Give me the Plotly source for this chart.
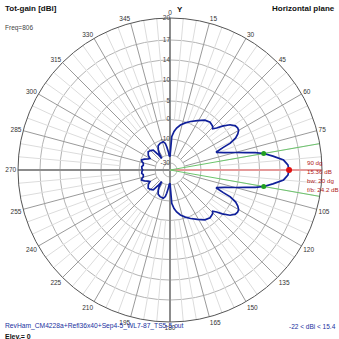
import numpy as np
import plotly.graph_objects as go

# ---- data (dBi) ----
az_deg = [0, 3, 6, 9, 13, 18, 23, 29, 35, 40, 44, 46, 48, 50, 53, 56, 58, 60, 62, 64, 66, 67, 69,
          72.5, 75, 77, 78.5, 80, 82.3, 85, 87.5, 90,
          92.5, 95, 97.7, 100, 101.5, 103, 105, 107.5, 111, 113, 114, 116, 118, 120, 122, 124, 127,
          130, 132, 134, 136, 140, 145, 151, 157, 162, 167, 171, 174, 177, 180,
          183, 185, 188, 190, 193.3, 200.5, 206, 210.3, 213, 215.5, 217.5, 220, 225, 230, 236, 240,
          243, 247, 250.5, 253, 256, 260, 263.3, 267, 270,
          273, 276.7, 280, 284, 287, 289.5, 293, 297, 300, 304, 310, 315, 320, 322.5, 324.5, 327,
          329.7, 334, 339.5, 346.7, 350, 352, 355, 357, 360]
gain_dbi = [-22, -8.8, -6, -4.1, -2.2, -0.5, 0.6, 1.6, 2.8, 3.2, 2.9, 2.4, 3.3, 4.8, 6.5, 7.4, 7.6,
            7.5, 6.9, 6.0, 4.2, 2.0, -0.6,
            1.9, 4.6, 7.1, 9.4, 11.1, 12.8, 14.6, 15.2, 15.36,
            15.2, 14.6, 12.8, 11.1, 9.4, 7.1, 4.6, 1.9, -0.6, 2.0, 4.2, 6.0, 6.9, 7.5, 7.6, 7.4, 6.5,
            4.8, 3.3, 2.4, 2.9, 3.2, 2.8, 1.6, 0.6, -0.5, -2.2, -4.1, -6, -8.8, -22,
            -21, -18, -14.7, -12.5, -11.2, -11.6, -12.5, -14.9, -17, -20.9, -17, -13.1, -12.2, -11.6,
            -13, -14.9, -14, -12, -10.6, -11.0, -12.2, -12.4, -11.6, -11.8, -12.3,
            -11.8, -11.6, -12.4, -12.2, -11.0, -10.6, -12, -14, -14.9, -13, -11.6, -12.2, -13.1,
            -17, -20.9, -17, -14.9, -12.5, -11.6, -11.2, -12.5, -14.7, -18, -21, -22]

max_az = 90
max_gain = 15.36
bw_az = [80, 100]
bw_gain = [11.1, 11.1]

ring_db = [-30, -20, -10, 0, 5, 10, 14, 17, 20]
ring_lbl = ["-30", "", "-10", "0", "5", "10", "14", "17", "20"]
ring_px = [7, 15, 31, 50.5, 69, 89.5, 110, 130, 152]  # scale shape of the log plot

angle_ticks = list(range(0, 360, 15))
angle_lbl = ["" if a == 90 else str(a) for a in angle_ticks]

info_lines = ["90 dg", "15.36 dB", "bw: 20 dg", "f/b: 24.2 dB"]
file_name = "RevHam_CM4228a+Refl36x40+Sep4-5_WL7-87_TS5-5.out"
range_text = "-22 < dBi < 15.4"

# ---- scale ----
ring_r = [p / 152.0 for p in ring_px]


def rmap(db):
    return np.interp(np.asarray(db, dtype=float), ring_db, ring_r)


W = H = 339
cx, cy, R = 170, 170, 152
FONT = "Liberation Sans, Arial, sans-serif"

fig = go.Figure()

# light spokes every 5 deg
th, rr = [], []
for a in range(0, 360, 5):
    if a % 15:
        th += [a, a, None]
        rr += [float(rmap(0)), 1, None]
fig.add_trace(go.Scatterpolar(theta=th, r=rr, mode="lines",
                              line=dict(color="#dcdcdc", width=1), hoverinfo="skip", showlegend=False))
# darker spokes every 15 deg
th, rr = [], []
for a in range(0, 360, 15):
    if a % 90:
        th += [a, a, None]
        rr += [float(rmap(-20)), 1, None]
fig.add_trace(go.Scatterpolar(theta=th, r=rr, mode="lines",
                              line=dict(color="#9a9a9a", width=1), hoverinfo="skip", showlegend=False))
# main axes
th, rr = [], []
for a in (0, 180, 270):
    th += [a, a, None]
    rr += [0, 1, None]
fig.add_trace(go.Scatterpolar(theta=th, r=rr, mode="lines",
                              line=dict(color="#8c8c8c", width=2), hoverinfo="skip", showlegend=False))
# red max line
fig.add_trace(go.Scatterpolar(theta=[max_az, max_az], r=[0, 1], mode="lines",
                              line=dict(color="#e59a9a", width=2), hoverinfo="skip", showlegend=False))
# green bw lines
fig.add_trace(go.Scatterpolar(theta=[bw_az[0], bw_az[0], None, bw_az[1], bw_az[1]],
                              r=[0, 1, None, 0, 1], mode="lines",
                              line=dict(color="#6cc46c", width=1), hoverinfo="skip", showlegend=False))
# radial scale labels along the 0 deg spoke
fig.add_trace(go.Scatterpolar(theta=[0] * len(ring_db), r=rmap(ring_db), mode="text",
                              text=ring_lbl, textposition="middle left",
                              textfont=dict(size=6.5, color="#444444", family=FONT),
                              hoverinfo="skip", showlegend=False))
# pattern
fig.add_trace(go.Scatterpolar(theta=az_deg, r=rmap(gain_dbi), mode="lines",
                              line=dict(color="#10209a", width=1.7), showlegend=False))
# markers
fig.add_trace(go.Scatterpolar(theta=bw_az, r=rmap(bw_gain), mode="markers",
                              marker=dict(color="#22a022", size=5), showlegend=False))
fig.add_trace(go.Scatterpolar(theta=[max_az], r=rmap([max_gain]), mode="markers",
                              marker=dict(color="#e01010", size=6), showlegend=False))

fig.update_layout(
    width=W, height=H,
    margin=dict(l=0, r=0, t=0, b=0),
    paper_bgcolor="white", plot_bgcolor="white",
    font=dict(family=FONT, size=7, color="#333333"),
    polar=dict(
        domain=dict(x=[(cx - R) / W, (cx + R) / W], y=[1 - (cy + R) / H, 1 - (cy - R) / H]),
        bgcolor="white",
        angularaxis=dict(rotation=90, direction="clockwise", tickmode="array",
                         tickvals=angle_ticks, ticktext=angle_lbl,
                         showgrid=False, showline=True, linecolor="#555555", linewidth=1,
                         ticks="", tickfont=dict(size=6.5, color="#333333")),
        radialaxis=dict(range=[0, 1], tickmode="array", tickvals=list(rmap(ring_db)),
                        showticklabels=False, showline=False, ticks="",
                        gridcolor="#b4b4b4", gridwidth=1),
    ),
)


def ann(x, y, text, size=7, color="#333333", bold=False, xanchor="left"):
    if bold:
        text = "<b>" + text + "</b>"
    fig.add_annotation(x=x / W, y=1 - y / H, xref="paper", yref="paper", text=text,
                       showarrow=False, xanchor=xanchor, yanchor="middle",
                       font=dict(size=size, color=color, family=FONT))


ann(3, 8, "Tot-gain [dBi]", size=8, color="#111111", bold=True)
ann(3, 28, "Freq=806", size=6.5, color="#444444")
ann(175, 10, "Y", size=8, color="#111111", bold=True)
ann(337, 8, "Horizontal plane", size=8, color="#111111", bold=True, xanchor="right")
for i, t in enumerate(info_lines):
    ann(305, 162 + 9 * i, t, size=6.2, color="#b02020")
ann(3, 326, file_name, size=6.7, color="#2030a0")
ann(338, 326, range_text, size=6.5, color="#2030a0", xanchor="right")
ann(3, 336, "Elev.= 0", size=7, color="#111111", bold=True)

fig.write_html("out.html")
